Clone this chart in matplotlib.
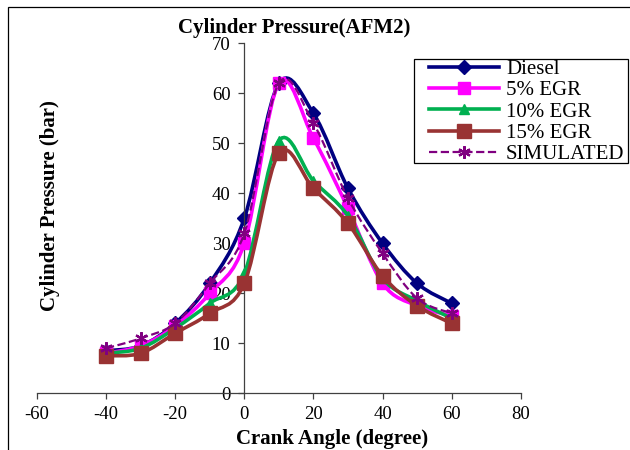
import numpy as np
import matplotlib
matplotlib.use("Agg")
import matplotlib.pyplot as plt
from matplotlib.path import Path
from matplotlib.patches import PathPatch, Rectangle
from matplotlib.lines import Line2D

plt.rcParams['font.family'] = ['Liberation Serif', 'DejaVu Serif']
plt.rcParams['axes.unicode_minus'] = False

# crank angle (degree)
crank_angle = [-40, -30, -20, -10, 0, 10, 20, 30, 40, 50, 60]

# cylinder pressure (bar)
diesel = [8.5, 9.5, 14, 22, 35, 62, 56, 41, 30, 22, 18]
egr_5 = [8, 9.5, 13.5, 20, 30, 62, 51, 37, 22, 17.5, 15.5]
egr_10 = [8, 9, 13, 18, 24, 50.5, 42.5, 35.5, 23, 18.5, 15]
egr_15 = [7.5, 8, 12, 16, 22, 48, 41, 34, 23.5, 17.5, 14]
simulated = [9, 11, 14, 22, 32, 62, 54, 39, 28, 19, 16]

series_names = ['Diesel', '5% EGR', '10% EGR', '15% EGR', 'SIMULATED']
series_values = [diesel, egr_5, egr_10, egr_15, simulated]

colors = ['#000080', '#FF00FF', '#00B050', '#993333', '#800080']
markers = ['D', 's', '^', 's', (6, 2, 0)]
msizes = [7, 8, 7.5, 9.5, 9]
lstyles = ['-', '-', '-', '-', '--']
lwidths = [2.6, 2.6, 2.6, 2.6, 1.6]


def smooth_path(x, y):
    # Excel-style smoothed line (Bezier through the points)
    p = np.column_stack([x, y]).astype(float)
    n = len(p)
    verts = [p[0]]
    codes = [Path.MOVETO]
    for i in range(n - 1):
        p0 = p[i - 1] if i > 0 else p[i]
        p1 = p[i]
        p2 = p[i + 1]
        p3 = p[i + 2] if i + 2 < n else p[i + 1]
        verts += [p1 + (p2 - p0) / 6, p2 - (p3 - p1) / 6, p2]
        codes += [Path.CURVE4] * 3
    return Path(verts, codes)


fig = plt.figure(figsize=(6.3, 4.5), dpi=100)
ax = fig.add_axes([37 / 630, 56.7 / 450, 483.7 / 630, 350 / 450])

handles = []
for k in range(len(series_names)):
    patch = PathPatch(smooth_path(crank_angle, series_values[k]), fill=False,
                      edgecolor=colors[k], lw=lwidths[k], linestyle=lstyles[k],
                      zorder=2 + k)
    ax.add_patch(patch)
    mew = 1.6 if k == 4 else 1
    ax.plot(crank_angle, series_values[k], linestyle='none', marker=markers[k],
            ms=msizes[k], color=colors[k], mec=colors[k], mew=mew, zorder=2 + k)
    handles.append(Line2D([], [], color=colors[k], lw=lwidths[k], ls=lstyles[k],
                          marker=markers[k], ms=msizes[k], mec=colors[k], mew=mew))

ax.set_xlim(-60, 80)
ax.set_ylim(0, 70)
ax.set_xticks(np.arange(-60, 81, 20))
ax.set_yticks(np.arange(0, 71, 10))

ax.spines['top'].set_visible(False)
ax.spines['right'].set_visible(False)
ax.spines['left'].set_position(('data', 0))
for s in ['left', 'bottom']:
    ax.spines[s].set_color('#404040')
    ax.spines[s].set_linewidth(0.9)
ax.tick_params(axis='both', direction='out', length=4, width=0.9, color='#404040',
               labelsize=13.5)
ax.tick_params(axis='y', pad=6)
ax.tick_params(axis='x', pad=5)
ax.patch.set_alpha(0)

fig.text(294 / 630, 1 - 33 / 450, 'Cylinder Pressure(AFM2)', fontsize=15,
         fontweight='bold', ha='center', va='baseline')
fig.text(332.5 / 630, 1 - 444 / 450, 'Crank Angle (degree)', fontsize=15,
         fontweight='bold', ha='center', va='baseline')
fig.text(50 / 630, 1 - 206 / 450, 'Cylinder Pressure (bar)', fontsize=15,
         fontweight='bold', ha='center', va='center', rotation=90)

# legend entries, with the box drawn separately
leg = fig.legend(handles, series_names, loc='upper left',
                 bbox_to_anchor=(429 / 630, 1 - 59.5 / 450), fontsize=15,
                 frameon=False, handlelength=3.36, handletextpad=0.34,
                 labelspacing=0.08, borderpad=0, borderaxespad=0)
fig.patches.append(Rectangle((414 / 630, 1 - 163 / 450), 214 / 630, 104 / 450,
                             facecolor='white', edgecolor='black', lw=0.9,
                             transform=fig.transFigure, figure=fig, zorder=4))

# outer chart frame
fig.patches.append(Rectangle((8 / 630, -0.1), 2, 1.1 - 7 / 450, fill=False,
                             edgecolor='black', lw=0.9,
                             transform=fig.transFigure, figure=fig))

fig.savefig('out.png', dpi=100)
